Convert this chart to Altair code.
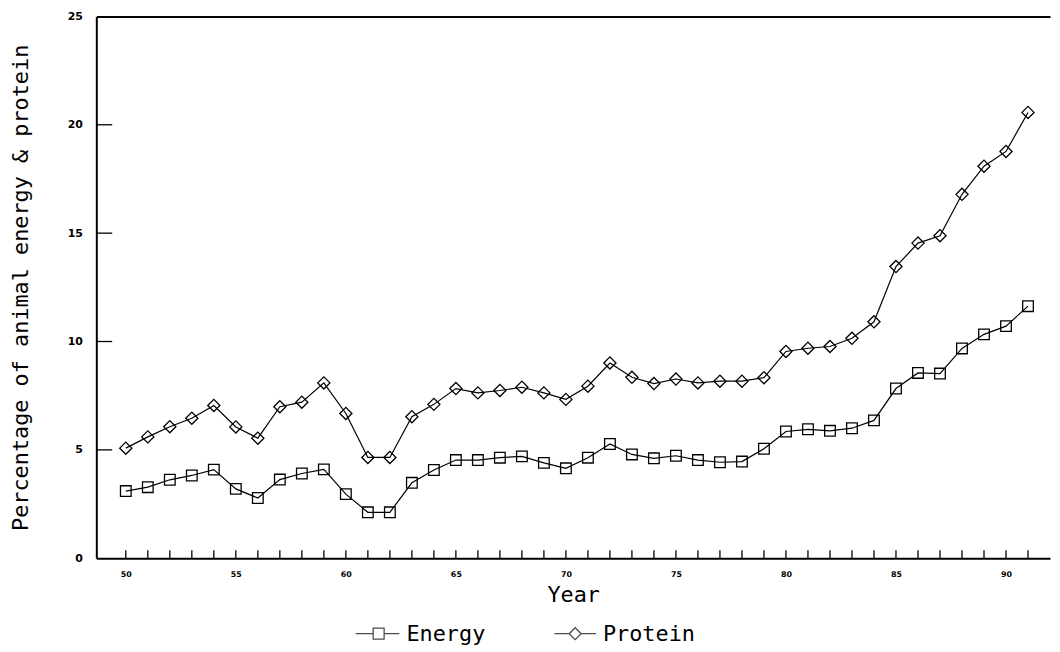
import altair as alt
import pandas as pd

years = list(range(50, 92))
energy = [3.10, 3.28, 3.62, 3.82, 4.09, 3.20, 2.78, 3.63, 3.91, 4.10,
          2.96, 2.12, 2.12, 3.48, 4.07, 4.53, 4.53, 4.64, 4.70, 4.40,
          4.15, 4.64, 5.27, 4.79, 4.61, 4.73, 4.53, 4.43, 4.46, 5.05,
          5.85, 5.95, 5.88, 6.00, 6.36, 7.83, 8.55, 8.52, 9.68, 10.33,
          10.71, 11.63]
protein = [5.08, 5.60, 6.07, 6.46, 7.05, 6.06, 5.54, 6.99, 7.20, 8.09,
           6.68, 4.65, 4.65, 6.53, 7.10, 7.83, 7.63, 7.74, 7.89, 7.63,
           7.33, 7.94, 9.01, 8.35, 8.06, 8.27, 8.09, 8.17, 8.17, 8.33,
           9.54, 9.69, 9.77, 10.15, 10.91, 13.46, 14.54, 14.88, 16.79, 18.09,
           18.77, 20.57]
series_names = ["Energy", "Protein"]
x_label_values = [50, 55, 60, 65, 70, 75, 80, 85, 90]
y_label_values = [0, 5, 10, 15, 20, 25]
y_tick_values = [5, 10, 15, 20]

df = pd.DataFrame({
    "year": years * 2,
    "value": energy + protein,
    "series": ["Energy"] * len(years) + ["Protein"] * len(years),
})
xticks_df = pd.DataFrame({"year": years})
yticks_df = pd.DataFrame({"value": y_tick_values})

W, H = 961, 546
xdom = [48.66, 92.0]
ydom = [0, 25]
MONO = "DejaVu Sans Mono"

base = alt.Chart(df)

lines = base.mark_line(color="black", strokeWidth=1.2).encode(
    x=alt.X("year:Q", scale=alt.Scale(domain=xdom, nice=False, zero=False),
            axis=alt.Axis(orient="bottom", values=x_label_values, format="d",
                          ticks=False, tickSize=0, domain=True, domainColor="black",
                          domainWidth=2, grid=False,
                          labelFont="DejaVu Sans", labelFontWeight="bold",
                          labelFontSize=8, labelColor="black", labelPadding=12,
                          labelBaseline="top",
                          title="Year", titleFont=MONO, titleFontSize=22,
                          titleFontWeight="normal", titleColor="black",
                          titleY=44, titleBaseline="alphabetic")),
    y=alt.Y("value:Q", scale=alt.Scale(domain=ydom, nice=False),
            axis=alt.Axis(orient="left", values=y_label_values, format="d",
                          ticks=False, tickSize=0, domain=True, domainColor="black",
                          domainWidth=2, grid=False,
                          labelFont="DejaVu Sans", labelFontWeight="bold",
                          labelFontSize=11, labelColor="black", labelPadding=14,
                          labelBaseline="middle",
                          title="Percentage of animal energy & protein",
                          titleFont=MONO, titleFontSize=22, titleFontWeight="normal",
                          titleColor="black", titleAngle=270, titleX=-76,
                          titleY=273, titleAlign="center", titleBaseline="middle")),
    detail="series:N",
)

points = base.mark_point(filled=False, color="black", strokeWidth=1.3, opacity=1).encode(
    x=alt.X("year:Q", axis=None),
    y=alt.Y("value:Q", axis=None),
    shape=alt.Shape("series:N", scale=alt.Scale(domain=series_names,
                                                range=["square", "diamond"]),
                    legend=None),
    size=alt.Size("series:N", scale=alt.Scale(domain=series_names, range=[115, 150]),
                  legend=None),
)

# inward-pointing tick marks along the bottom axis (one per year)
x_ticks = alt.Chart(xticks_df).mark_tick(
    orient="vertical", color="black", thickness=1.3, size=8, yOffset=-4, opacity=1
).encode(
    x=alt.X("year:Q", axis=None),
    y=alt.YDatum(ydom[0], axis=None),
)

# inward-pointing tick marks along the left axis
y_ticks = alt.Chart(yticks_df).mark_tick(
    orient="horizontal", color="black", thickness=1.3, size=16, xOffset=8, opacity=1
).encode(
    x=alt.XDatum(xdom[0], axis=None),
    y=alt.Y("value:Q", axis=None),
)

legend_paths = [
    "M-4.2,0H-1M1,0H3.8M-1,-1H1V1H-1Z",
    "M-3.8,0H-1.1M1.1,0H3.8M-1.1,0L0,-1.1L1.1,0L0,1.1Z",
]

legend_layer = base.transform_filter("false").mark_point(
    filled=False, color="black", strokeWidth=1.3).encode(
    x=alt.X("year:Q",
            axis=alt.Axis(orient="top", ticks=False, labels=False, domain=True,
                          domainColor="black", domainWidth=2, grid=False, title=None)),
    y=alt.Y("value:Q", axis=None),
    shape=alt.Shape("series:N",
                    scale=alt.Scale(domain=series_names, range=legend_paths),
                    legend=alt.Legend(orient="none", legendX=273.5, legendY=611,
                                      direction="horizontal", title=None,
                                      symbolSize=121, symbolStrokeWidth=1.3,
                                      symbolStrokeColor="black",
                                      symbolFillColor="transparent",
                                      labelFont=MONO, labelFontSize=22,
                                      labelColor="black", labelOffset=17,
                                      columnPadding=66, padding=0)),
)

chart = alt.layer(lines, points, x_ticks, y_ticks, legend_layer).resolve_axis(
    x="independent", y="independent"
).resolve_scale(shape="independent", size="independent").properties(
    width=W, height=H,
    autosize=alt.AutoSizeParams(type="none"),
    padding={"left": 89, "top": 6, "right": 2, "bottom": 92},
    background="white",
).configure_view(stroke=None)

chart.save("out.html", embed_options={"renderer": "svg", "actions": False})
